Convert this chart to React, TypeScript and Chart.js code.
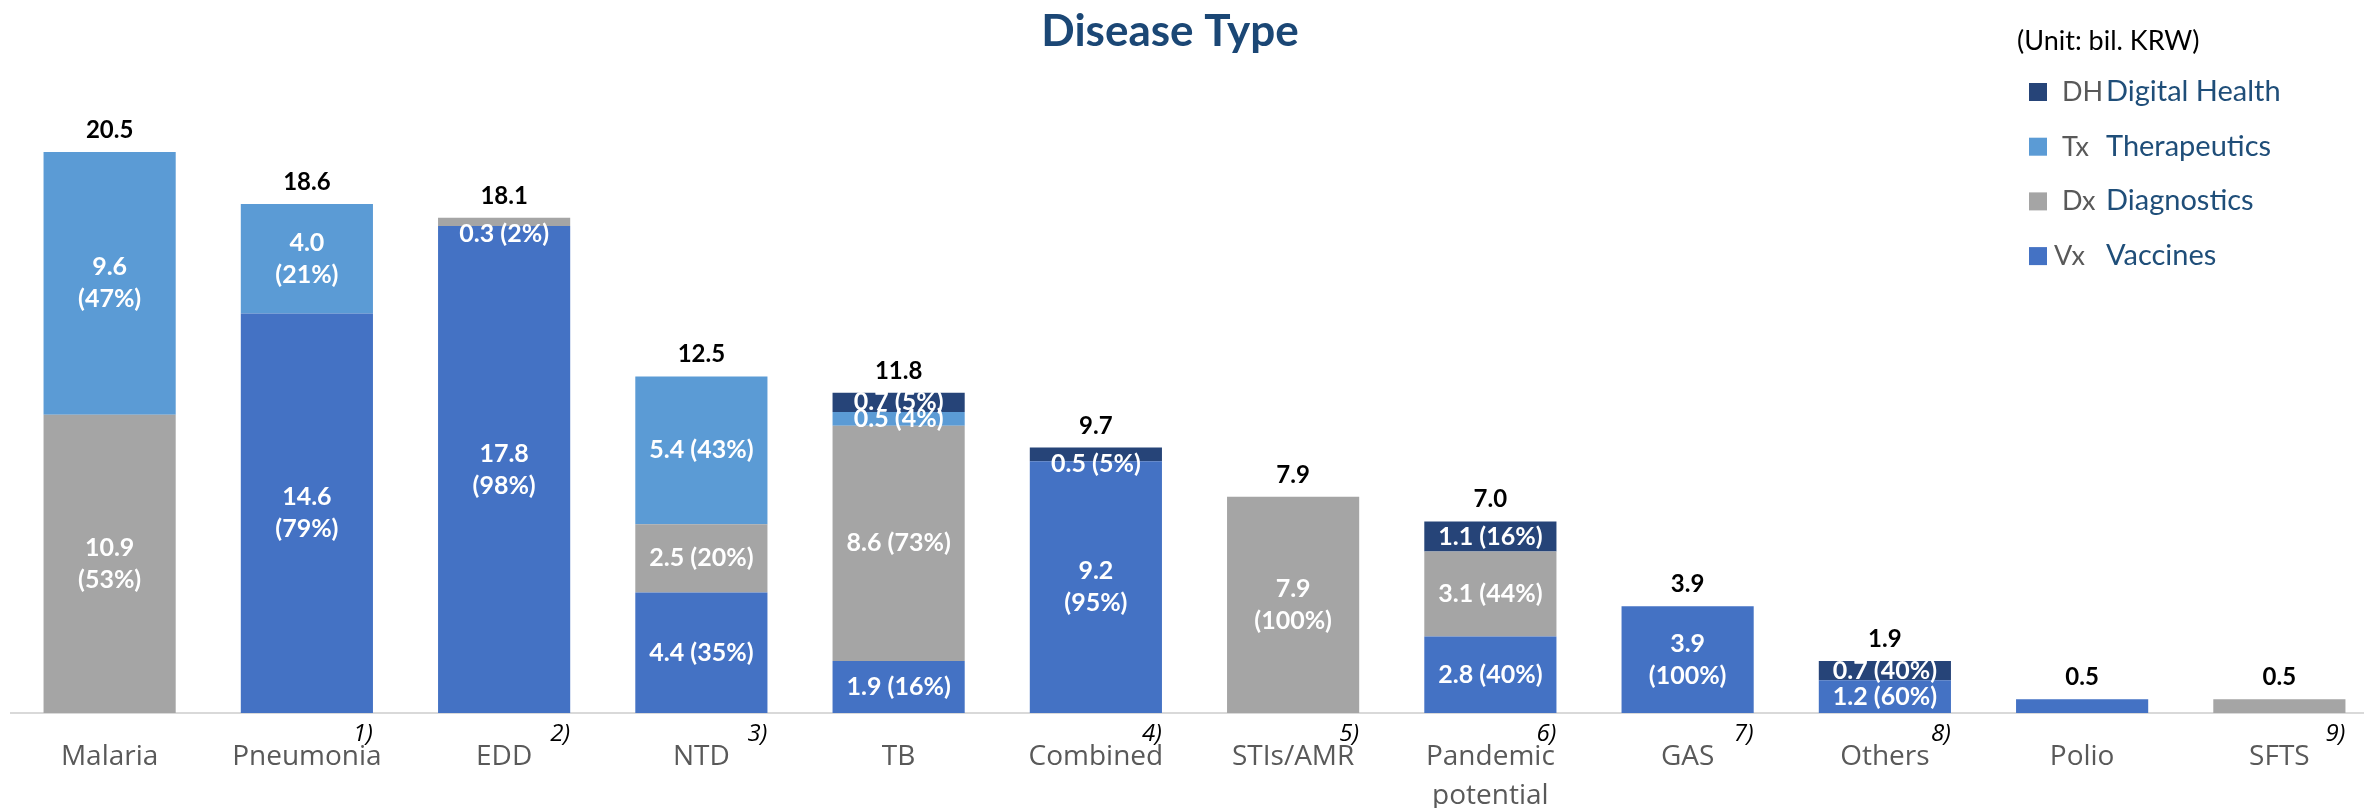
import React, { useEffect, useRef } from 'react';
import { Chart, registerables } from 'chart.js';

Chart.register(...registerables);

// ---- data ----
const categories: string[][] = [
  ['Malaria'], ['Pneumonia'], ['EDD'], ['NTD'], ['TB'], ['Combined'],
  ['STIs/AMR'], ['Pandemic', 'potential'], ['GAS'], ['Others'], ['Polio'], ['SFTS'],
];
const notes = ['', '1)', '2)', '3)', '', '4)', '5)', '6)', '7)', '8)', '', '9)'];

const vaccines = [0, 14.6, 17.8, 4.4, 1.9, 9.2, 0, 2.8, 3.9, 1.2, 0.5, 0];
const diagnostics = [10.9, 0, 0.3, 2.5, 8.6, 0, 7.9, 3.1, 0, 0, 0, 0.5];
const therapeutics = [9.6, 4.0, 0, 5.4, 0.5, 0, 0, 0, 0, 0, 0, 0];
const digitalHealth = [0, 0, 0, 0, 0.7, 0.5, 0, 1.1, 0, 0.7, 0, 0];

const vaccinesPct = [null, 79, 98, 35, 16, 95, null, 40, 100, 60, null, null];
const diagnosticsPct = [53, null, 2, 20, 73, null, 100, 44, null, null, null, null];
const therapeuticsPct = [47, 21, null, 43, 4, null, null, null, null, null, null, null];
const digitalHealthPct = [null, null, null, null, 5, 5, null, 16, null, 40, null, null];

const totals = [20.5, 18.6, 18.1, 12.5, 11.8, 9.7, 7.9, 7.0, 3.9, 1.9, 0.5, 0.5];
const labelBreak = [true, true, true, false, false, true, true, false, true, false, false, false];

const seriesNames = ['Vaccines', 'Diagnostics', 'Therapeutics', 'Digital Health'];
const seriesAbbr = ['Vx', 'Dx', 'Tx', 'DH'];
const seriesColors = ['#4472C4', '#A5A5A5', '#5B9BD5', '#264478'];

const title = 'Disease Type';
const unitText = '(Unit: bil. KRW)';

const pctLists = [vaccinesPct, diagnosticsPct, therapeuticsPct, digitalHealthPct];

const overlay = {
  id: 'overlay',
  afterDatasetsDraw(chart: any) {
    const ctx = chart.ctx;
    ctx.save();
    const dsets = chart.data.datasets;
    const n = categories.length;
    // segment labels
    dsets.forEach((ds: any, di: number) => {
      const meta = chart.getDatasetMeta(di);
      meta.data.forEach((bar: any, i: number) => {
        const v = ds.data[i];
        const p = pctLists[di][i];
        if (!v || p == null) return;
        const { x, y, base } = bar.getProps(['x', 'y', 'base'], true);
        let cy = (y + base) / 2;
        let isTop = true;
        let count = 0;
        dsets.forEach((d2: any, dj: number) => {
          if (d2.data[i] > 0) {
            count++;
            if (dj > di) isTop = false;
          }
        });
        if (base - y < 16 && isTop && count === 2) cy = y + 16;
        ctx.fillStyle = '#FFFFFF';
        ctx.font = 'bold 25px Lato';
        ctx.textAlign = 'center';
        ctx.textBaseline = 'middle';
        if (labelBreak[i] && v >= 1) {
          ctx.fillText(v.toFixed(1), x, cy - 16);
          ctx.fillText('(' + p + '%)', x, cy + 16);
        } else {
          ctx.fillText(v.toFixed(1) + ' (' + p + '%)', x, cy);
        }
      });
    });
    // totals
    for (let i = 0; i < n; i++) {
      let top = Infinity;
      let x = 0;
      dsets.forEach((ds: any, di: number) => {
        const bar: any = chart.getDatasetMeta(di).data[i];
        const pr = bar.getProps(['x', 'y'], true);
        x = pr.x;
        if (ds.data[i] > 0 && pr.y < top) top = pr.y;
      });
      ctx.fillStyle = '#000000';
      ctx.font = 'bold 24px Lato';
      ctx.textAlign = 'center';
      ctx.textBaseline = 'alphabetic';
      ctx.fillText(totals[i].toFixed(1), x, top - 14);
    }
    ctx.restore();
  },
  afterDraw(chart: any) {
    const ctx = chart.ctx;
    ctx.save();
    // title
    ctx.fillStyle = '#1B4775';
    ctx.font = 'bold 44px Lato';
    ctx.textAlign = 'center';
    ctx.textBaseline = 'alphabetic';
    ctx.fillText(title, 1170, 46);
    // notes
    const xs = chart.scales.x;
    ctx.fillStyle = '#000000';
    ctx.font = 'italic 24px "Open Sans"';
    ctx.textAlign = 'left';
    notes.forEach((t, i) => {
      if (!t) return;
      const px = xs.getPixelForValue(i);
      ctx.fillText(t, px + 46, 741);
    });
    // legend
    ctx.fillStyle = '#000000';
    ctx.font = '27px Lato';
    ctx.fillText(unitText, 2017, 50);
    for (let r = 0; r < 4; r++) {
      const di = 3 - r;
      const top = 83 + r * 54.7;
      ctx.fillStyle = seriesColors[di];
      ctx.fillRect(2029, top, 18, 18);
      ctx.fillStyle = '#595959';
      ctx.font = '27px Lato';
      ctx.fillText(seriesAbbr[di], di === 0 ? 2054 : 2062, top + 18);
      ctx.fillStyle = '#1F4E79';
      ctx.font = '29px Lato';
      ctx.fillText(seriesNames[di], 2106, top + 18);
    }
    ctx.restore();
  },
};

export default function App() {
  const ref = useRef<HTMLCanvasElement>(null);
  useEffect(() => {
    if (!ref.current) return;
    const chart = new Chart(ref.current, {
      type: 'bar',
      data: {
        labels: categories,
        datasets: [vaccines, diagnostics, therapeutics, digitalHealth].map((d, k) => ({
          label: seriesNames[k],
          data: d,
          backgroundColor: seriesColors[k],
          borderWidth: 0,
          categoryPercentage: 1,
          barPercentage: 0.67,
        })),
      },
      options: {
        animation: false,
        responsive: false,
        devicePixelRatio: 1,
        layout: { padding: { top: 111, left: 11, right: 0, bottom: 0 } },
        plugins: { legend: { display: false }, tooltip: { enabled: false }, title: { display: false } },
        scales: {
          x: {
            stacked: true,
            grid: { display: false, drawTicks: false },
            border: { display: true, color: '#D9D9D9', width: 2 },
            ticks: {
              color: '#595959',
              font: { family: 'Open Sans', size: 28, lineHeight: 1.4 },
              padding: 24,
              maxRotation: 0,
              autoSkip: false,
            },
            afterFit: (s: any) => { s.height = 95; },
          },
          y: {
            stacked: true,
            display: false,
            min: 0,
            max: 22,
          },
        },
      },
      plugins: [overlay],
    });
    return () => chart.destroy();
  }, []);
  return (
    <div style={{ position: 'absolute', left: 0, top: 0, width: 2364, height: 808, overflow: 'hidden', background: '#fff' }}>
      <canvas ref={ref} width={2378} height={808} style={{ display: 'block', width: 2378, height: 808 }} />
    </div>
  );
}
